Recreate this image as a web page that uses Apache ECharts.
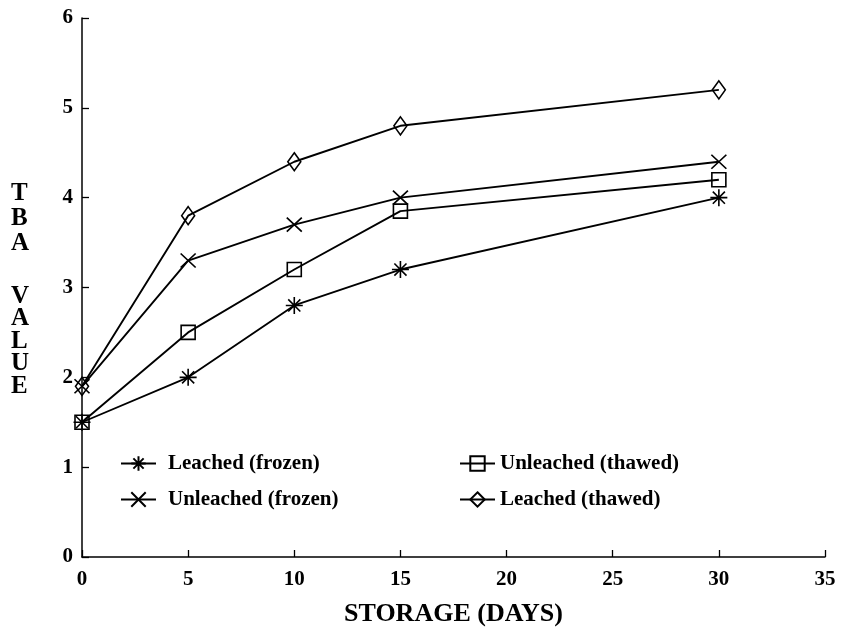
<!DOCTYPE html>
<html>
<head>
<meta charset="utf-8">
<script src="https://cdn.jsdelivr.net/npm/echarts@6/dist/echarts.min.js"></script>
<style>
  html, body { margin: 0; padding: 0; background: #fff; }
  #chart { width: 843px; height: 627px; }
</style>
</head>
<body>
<div id="chart"></div>
<script>
// Storage time in days
const days = [0, 5, 10, 15, 30];

// TBA values per treatment
const leachedFrozen   = [1.5, 2.0, 2.8, 3.2, 4.0];
const unleachedFrozen = [1.9, 3.3, 3.7, 4.0, 4.4];
const unleachedThawed = [1.5, 2.5, 3.2, 3.85, 4.2];
const leachedThawed   = [1.9, 3.8, 4.4, 4.8, 5.2];

const seriesNames = [
  'Leached (frozen)',
  'Unleached (frozen)',
  'Unleached (thawed)',
  'Leached (thawed)'
];

const FONT = '"Liberation Serif", "Times New Roman", serif';

// Open marker outlines (lines stay visible through them)
const markers = {
  asterisk: { symbol: 'path://M0,8L16,8M8,0L8,16M2.3,2.3L13.7,13.7M13.7,2.3L2.3,13.7', size: 17 },
  cross:    { symbol: 'path://M0,0L15,14M15,0L0,14', size: [15, 14] },
  square:   { symbol: 'path://M0,0L14,0L14,14L0,14Z', size: 14 },
  diamond:  { symbol: 'path://M6.5,0L13,9L6.5,18L0,9Z', size: [13, 18] }
};

function pairs(values) {
  return days.map((d, i) => [d, values[i]]);
}

function makeSeries(name, values, marker) {
  return {
    name: name,
    type: 'line',
    data: pairs(values),
    symbol: marker.symbol,
    symbolSize: marker.size,
    symbolKeepAspect: false,
    lineStyle: { color: '#000', width: 1.9 },
    itemStyle: { color: 'rgba(0,0,0,0)', borderColor: '#000', borderWidth: 1.6 },
    emphasis: { disabled: true },
    silent: true
  };
}

const chart = echarts.init(document.getElementById('chart'), null, { renderer: 'canvas' });

const legendText = { fontFamily: FONT, fontWeight: 'bold', fontSize: 21, color: '#000' };

chart.setOption({
  animation: false,
  backgroundColor: '#fff',
  grid: { left: 82, right: 18, top: 18, bottom: 70, containLabel: false, outerBoundsMode: 'none' },
  legend: [
    {
      orient: 'vertical',
      left: 115,
      top: 448,
      itemWidth: 35,
      itemHeight: 18,
      itemGap: 15,
      selectedMode: false,
      data: [seriesNames[0], seriesNames[1]],
      textStyle: Object.assign({ padding: [0, 0, 0, 7] }, legendText)
    },
    {
      orient: 'vertical',
      left: 454,
      top: 448,
      itemWidth: 35,
      itemHeight: 18,
      itemGap: 15,
      selectedMode: false,
      data: [seriesNames[2], seriesNames[3]],
      textStyle: Object.assign({ padding: [0, 0, 0, 0] }, legendText)
    }
  ],
  xAxis: {
    type: 'value',
    min: 0,
    max: 35,
    interval: 5,
    name: 'STORAGE (DAYS)',
    nameLocation: 'middle',
    nameGap: 44,
    nameTextStyle: { fontFamily: FONT, fontWeight: 'bold', fontSize: 26, color: '#000' },
    axisLine: { show: true, lineStyle: { color: '#000', width: 1.5 } },
    axisTick: { show: true, inside: true, length: 7, lineStyle: { color: '#000', width: 1.3 } },
    axisLabel: { fontFamily: FONT, fontWeight: 'bold', fontSize: 21, color: '#000', margin: 12 },
    splitLine: { show: false }
  },
  yAxis: {
    type: 'value',
    min: 0,
    max: 6,
    interval: 1,
    axisLine: { show: true, lineStyle: { color: '#000', width: 1.5 } },
    axisTick: { show: true, inside: true, length: 7, lineStyle: { color: '#000', width: 1.3 } },
    axisLabel: { fontFamily: FONT, fontWeight: 'bold', fontSize: 21, color: '#000', margin: 9 },
    splitLine: { show: false }
  },
  graphic: [
    {
      type: 'text',
      left: 11,
      top: 181,
      style: {
        text: 'T\nB\nA',
        font: 'bold 25px ' + FONT,
        lineHeight: 25,
        align: 'center',
        fill: '#000'
      }
    },
    {
      type: 'text',
      left: 11,
      top: 284,
      style: {
        text: 'V\nA\nL\nU\nE',
        font: 'bold 25px ' + FONT,
        lineHeight: 22.5,
        align: 'center',
        fill: '#000'
      }
    }
  ],
  series: [
    makeSeries(seriesNames[0], leachedFrozen, markers.asterisk),
    makeSeries(seriesNames[1], unleachedFrozen, markers.cross),
    makeSeries(seriesNames[2], unleachedThawed, markers.square),
    makeSeries(seriesNames[3], leachedThawed, markers.diamond)
  ]
});
</script>
</body>
</html>
